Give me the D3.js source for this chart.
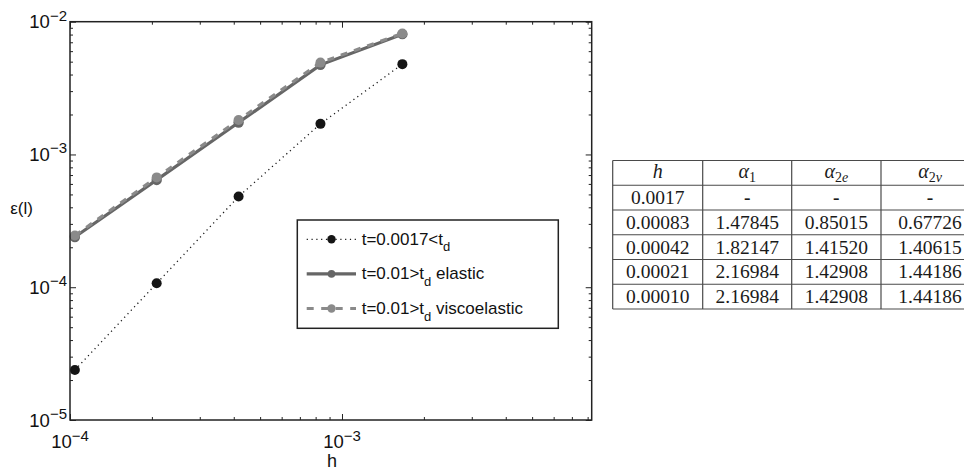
<!DOCTYPE html>
<html>
<head>
<meta charset="utf-8">
<script src="https://cdn.jsdelivr.net/npm/d3@7/dist/d3.min.js"></script>
<style>
  html, body { margin: 0; padding: 0; background: #fff; }
  svg { display: block; }
</style>
</head>
<body>
<svg id="fig" width="964" height="472"></svg>
<script>
// Mesh sizes and the error norm for each run
const hValues    = [1.042e-4, 2.083e-4, 4.167e-4, 8.333e-4, 1.667e-3];
const errEarly   = [2.38e-5, 1.07e-4, 4.82e-4, 1.70e-3, 4.79e-3];
const errElastic = [2.39e-4, 6.43e-4, 1.74e-3, 4.73e-3, 8.06e-3];
const errVisco   = [2.45e-4, 6.72e-4, 1.82e-3, 4.92e-3, 8.15e-3];

// Axis decades
const xMajor = [1e-4, 1e-3];
const xMajorExp = ["−4", "−3"];
const yMajor = [1e-5, 1e-4, 1e-3, 1e-2];
const yMajorExp = ["−5", "−4", "−3", "−2"];

// Legend entries
const legendMain = ["t=0.0017<t", "t=0.01>t", "t=0.01>t"];
const legendSub  = ["d", "d", "d"];
const legendTail = ["", " elastic", " viscoelastic"];

// Convergence-rate table
const tableH  = ["0.0017", "0.00083", "0.00042", "0.00021", "0.00010"];
const alpha1  = ["-", "1.47845", "1.82147", "2.16984", "2.16984"];
const alpha2e = ["-", "0.85015", "1.41520", "1.42908", "1.42908"];
const alpha2v = ["-", "0.67726", "1.40615", "1.44186", "1.44186"];

const svg = d3.select("#fig");
const plot = { left: 70, right: 591.7, top: 21.7, bottom: 420 };

const x = d3.scaleLog().domain([1e-4, 8.28e-3]).range([plot.left, plot.right]);
const y = d3.scaleLog().domain([1e-5, 1e-2]).range([plot.bottom, plot.top]);

// minor ticks: 2..9 within each decade
function minors(scale) {
  const [a, b] = scale.domain();
  const out = [];
  for (let e = Math.floor(Math.log10(a)); e <= Math.ceil(Math.log10(b)); e++) {
    for (let k = 2; k <= 9; k++) {
      const v = k * Math.pow(10, e);
      if (v > a && v < b) out.push(v);
    }
  }
  return out;
}

const axisColor = "#222";
const g = svg.append("g");

// ---- data lines ----
const lineGen = d3.line().x(d => x(d[0])).y(d => y(d[1]));
const zip = arr => hValues.map((h, i) => [h, arr[i]]);

g.append("path").datum(zip(errEarly))
  .attr("d", lineGen).attr("fill", "none")
  .attr("stroke", "#1a1a1a").attr("stroke-width", 1.3)
  .attr("stroke-dasharray", "1.2,3.6");
g.selectAll("circle.early").data(zip(errEarly)).enter().append("circle")
  .attr("class", "early").attr("cx", d => x(d[0])).attr("cy", d => y(d[1]))
  .attr("r", 5).attr("fill", "#151515");

g.append("path").datum(zip(errElastic))
  .attr("d", lineGen).attr("fill", "none")
  .attr("stroke", "#666").attr("stroke-width", 3.2);
g.selectAll("circle.el").data(zip(errElastic)).enter().append("circle")
  .attr("class", "el").attr("cx", d => x(d[0])).attr("cy", d => y(d[1]))
  .attr("r", 5.2).attr("fill", "#666");

g.append("path").datum(zip(errVisco))
  .attr("d", lineGen).attr("fill", "none")
  .attr("stroke", "#8a8a8a").attr("stroke-width", 3.2)
  .attr("stroke-dasharray", "7,7");
g.selectAll("circle.vi").data(zip(errVisco)).enter().append("circle")
  .attr("class", "vi").attr("cx", d => x(d[0])).attr("cy", d => y(d[1]))
  .attr("r", 5).attr("fill", "#8a8a8a");

// ---- axes box with mirrored ticks ----
function tickAxis(axisFn, scale, values, size, transform) {
  const ax = axisFn(scale).tickValues(values).tickFormat("").tickSizeInner(-size).tickSizeOuter(0);
  const sel = svg.append("g").attr("transform", transform).call(ax);
  sel.select(".domain").remove();
  sel.selectAll("line").attr("stroke", axisColor).attr("stroke-width", 1);
}
tickAxis(d3.axisBottom, x, xMajor, 6, `translate(0,${plot.bottom})`);
tickAxis(d3.axisBottom, x, minors(x), 3, `translate(0,${plot.bottom})`);
tickAxis(d3.axisTop, x, xMajor, 6, `translate(0,${plot.top})`);
tickAxis(d3.axisTop, x, minors(x), 3, `translate(0,${plot.top})`);
tickAxis(d3.axisLeft, y, yMajor, 6, `translate(${plot.left},0)`);
tickAxis(d3.axisLeft, y, minors(y), 3, `translate(${plot.left},0)`);
tickAxis(d3.axisRight, y, yMajor, 6, `translate(${plot.right},0)`);
tickAxis(d3.axisRight, y, minors(y), 3, `translate(${plot.right},0)`);

svg.append("rect")
  .attr("x", plot.left).attr("y", plot.top)
  .attr("width", plot.right - plot.left).attr("height", plot.bottom - plot.top)
  .attr("fill", "none").attr("stroke", axisColor).attr("stroke-width", 1.5);

// ---- tick labels (powers of ten) ----
const sans = "'Liberation Sans', Arial, Helvetica, sans-serif";
function powLabel(sel, exp) {
  sel.append("tspan").text("10");
  sel.append("tspan").attr("font-size", 15).attr("dy", -7.8).text(exp);
}
yMajor.forEach((v, i) => {
  const t = svg.append("text")
    .attr("x", plot.left - 3).attr("y", y(v) + 6.6)
    .attr("text-anchor", "end").attr("font-family", sans)
    .attr("font-size", 18.5).attr("fill", "#111");
  powLabel(t, yMajorExp[i]);
});
xMajor.forEach((v, i) => {
  const t = svg.append("text")
    .attr("x", x(v)).attr("y", 448.3)
    .attr("text-anchor", "middle").attr("font-family", sans)
    .attr("font-size", 18.5).attr("fill", "#111");
  powLabel(t, xMajorExp[i]);
});

svg.append("text").attr("x", 332).attr("y", 467)
  .attr("text-anchor", "middle").attr("font-family", sans)
  .attr("font-size", 18).attr("fill", "#111").text("h");
svg.append("text").attr("x", 21.5).attr("y", 213.5)
  .attr("text-anchor", "middle").attr("font-family", sans)
  .attr("font-size", 17).attr("fill", "#111").text("ε(l)");

// ---- legend ----
const leg = { x0: 297.3, y0: 220, x1: 558.3, y1: 328.3 };
svg.append("rect")
  .attr("x", leg.x0).attr("y", leg.y0)
  .attr("width", leg.x1 - leg.x0).attr("height", leg.y1 - leg.y0)
  .attr("fill", "#fff").attr("stroke", axisColor).attr("stroke-width", 1.5);

const legStyles = [
  { stroke: "#1a1a1a", width: 1.3, dash: "1.2,3.6", fill: "#151515", r: 4.2 },
  { stroke: "#666", width: 3.2, dash: null, fill: "#666", r: 3.8 },
  { stroke: "#8a8a8a", width: 3.2, dash: "7,7.5", fill: "#8a8a8a", r: 4.2 }
];
const legRowY = d3.scaleLinear().domain([0, 2]).range([239.3, 308.5]);
legendMain.forEach((txt, i) => {
  const cy = legRowY(i);
  const st = legStyles[i];
  svg.append("line")
    .attr("x1", 306.7).attr("x2", 356).attr("y1", cy).attr("y2", cy)
    .attr("stroke", st.stroke).attr("stroke-width", st.width)
    .attr("stroke-dasharray", st.dash);
  svg.append("circle").attr("cx", 331.5).attr("cy", cy).attr("r", st.r).attr("fill", st.fill);
  const t = svg.append("text")
    .attr("x", 361.7).attr("y", cy + 5.5)
    .attr("font-family", sans).attr("font-size", 17).attr("fill", "#111");
  t.append("tspan").text(txt);
  t.append("tspan").attr("font-size", 13).attr("dy", 6.5).text(legendSub[i]);
  t.append("tspan").attr("dy", -6.5).text(legendTail[i]);
});

// ---- rate table ----
const serif = "'Liberation Serif', 'Times New Roman', serif";
const colEdges = [612.7, 702.7, 791.7, 881, 979];
const rowEdges = d3.range(7).map(i => 160.5 + i * 24.75);
const tg = svg.append("g");
const lineCol = "#4a4a4a";
rowEdges.forEach(yy => {
  tg.append("line").attr("x1", colEdges[0]).attr("x2", colEdges[colEdges.length - 1])
    .attr("y1", yy).attr("y2", yy).attr("stroke", lineCol).attr("stroke-width", 1.2);
});
colEdges.forEach(xx => {
  tg.append("line").attr("x1", xx).attr("x2", xx)
    .attr("y1", rowEdges[0]).attr("y2", rowEdges[rowEdges.length - 1])
    .attr("stroke", lineCol).attr("stroke-width", 1.2);
});
const colCenter = i => (colEdges[i] + colEdges[i + 1]) / 2;
const rowBase = i => (rowEdges[i] + rowEdges[i + 1]) / 2 + 6.5;

// header: h, alpha_1, alpha_2e, alpha_2v
const headerSubs = [null, "1", "2e", "2v"];
headerSubs.forEach((sub, c) => {
  const t = tg.append("text")
    .attr("x", colCenter(c)).attr("y", rowBase(0) - 1)
    .attr("text-anchor", "middle").attr("font-family", serif)
    .attr("font-size", 20).attr("fill", "#1a1a1a");
  if (sub === null) {
    t.attr("font-style", "italic").text("h");
  } else {
    t.append("tspan").attr("font-style", "italic").text("α");
    t.append("tspan").attr("font-size", 14).attr("dy", 4)
      .text(sub[0]);
    if (sub.length > 1) {
      t.append("tspan").attr("font-size", 14).attr("font-style", "italic").text(sub[1]);
    }
  }
});
const tableCols = [tableH, alpha1, alpha2e, alpha2v];
tableCols.forEach((col, c) => {
  col.forEach((val, r) => {
    tg.append("text")
      .attr("x", colCenter(c)).attr("y", rowBase(r + 1))
      .attr("text-anchor", "middle").attr("font-family", serif)
      .attr("font-size", 19.5).attr("fill", "#1a1a1a")
      .attr("font-weight", val === "-" ? "bold" : null)
      .text(val);
  });
});
</script>
</body>
</html>
